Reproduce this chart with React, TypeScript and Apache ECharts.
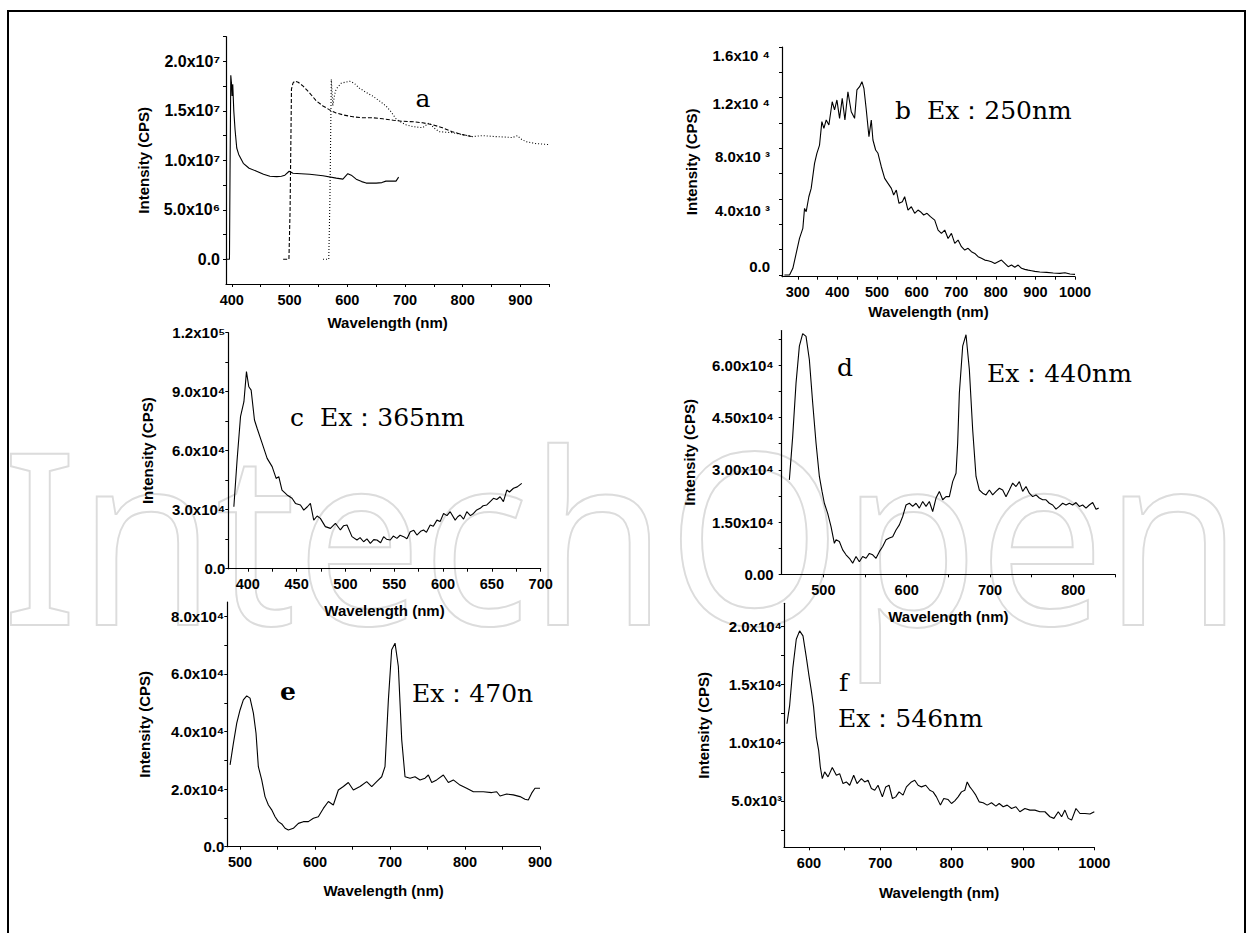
import React, { useEffect, useRef } from 'react';
import * as echarts from 'echarts';

type P = [number, number];

// ---------- panel a ----------
const aSolid: P[] = [[391,0],[396,0],[397,9.0e6],[398.3,1.86e7],[399.5,1.78e7],[400.5,1.65e7],[401.7,1.77e7],[403.5,1.5e7],[405.7,1.31e7],[408.6,1.125e7],[412,1.06e7],[420,9.7e6],[430,9.2e6],[443,8.9e6],[455,8.6e6],[466,8.4e6],[478,8.35e6],[486,8.4e6],[492,8.5e6],[499.4,8.9e6],[506,8.7e6],[520,8.65e6],[535,8.6e6],[558,8.45e6],[581,8.2e6],[592.5,8.1e6],[601,8.65e6],[607,8.5e6],[615.5,8.1e6],[625,7.85e6],[632.8,7.7e6],[650,7.7e6],[660,7.75e6],[667,7.9e6],[684.5,7.9e6],[689,8.3e6]];
const aDashed: P[] = [[489,0],[499,0],[501,5.0e6],[503.4,1.72e7],[506,1.78e7],[509,1.8e7],[515,1.79e7],[523.6,1.75e7],[535,1.68e7],[546.6,1.6e7],[558,1.55e7],[569.5,1.51e7],[580,1.48e7],[592.5,1.46e7],[610,1.44e7],[627,1.43e7],[645,1.43e7],[661.5,1.42e7],[680,1.405e7],[696,1.395e7],[715,1.39e7],[730.5,1.38e7],[747.7,1.36e7],[765,1.33e7],[782,1.29e7],[799.4,1.26e7],[816.6,1.24e7]];
const aDotted: P[] = [[558,0],[568,0],[570,6.0e6],[572.4,1.82e7],[575,1.55e7],[578,1.66e7],[580.7,1.72e7],[589.6,1.78e7],[604,1.8e7],[612,1.78e7],[621,1.73e7],[632,1.69e7],[644,1.65e7],[656,1.6e7],[667,1.55e7],[676,1.49e7],[684.5,1.42e7],[692,1.39e7],[701.7,1.36e7],[715,1.34e7],[730.5,1.33e7],[742,1.38e7],[750,1.33e7],[759,1.29e7],[770,1.285e7],[782,1.28e7],[800,1.26e7],[816.6,1.24e7],[834,1.25e7],[857,1.24e7],[875,1.235e7],[886,1.23e7],[894.8,1.25e7],[900,1.22e7],[909,1.19e7],[926,1.17e7],[948,1.16e7]];
const aXTicks = [400, 500, 600, 700, 800, 900];
const aXMinor = [450, 550, 650, 750, 850, 950];
const aYTicks = [0, 5e6, 1e7, 1.5e7, 2e7];
const aYLabels = ['0.0', '5.0x10⁶', '1.0x10⁷', '1.5x10⁷', '2.0x10⁷'];
const aYMinor = [2.5e6, 7.5e6, 1.25e7, 1.75e7, 2.25e7];

// ---------- panel b ----------
const bData: P[] = [[266,0],[279,0],[287.4,530],[295.8,1710],[304.2,2890],[312.6,3680],[316.9,5260],[321.1,5000],[327.8,6180],[333.7,6840],[342.2,8820],[348.1,9610],[354.8,10260],[360.7,12110],[365.8,11580],[371.7,12240],[378.4,11840],[386.8,13680],[392.7,13030],[398.7,13820],[405.4,12370],[412.1,13950],[418.9,12240],[426.5,14470],[434.9,12890],[443.3,12370],[449.2,14610],[456,14870],[461.9,15260],[466.9,14740],[472.9,13030],[479.6,10920],[485.5,12240],[489.7,10660],[496.5,9870],[502.4,9610],[510.8,8550],[519.3,7630],[527.7,7240],[536.2,6840],[542,6320],[548.7,6710],[555.5,5660],[563.9,5790],[569.8,6180],[578.2,5130],[586.7,5390],[595.1,4870],[603.5,5130],[609.5,5000],[617.9,4740],[626.3,4870],[634.8,4610],[645.7,4340],[654.2,3550],[662.6,3290],[671,3550],[679.4,2890],[687.9,3290],[696.3,2500],[704.7,2760],[713.2,2240],[721.6,1970],[730,2110],[738.4,1840],[746.9,1710],[755.3,1450],[763.7,1320],[772.2,1180],[780.6,1130],[789,1050],[797.5,920],[805.9,1050],[814.3,1180],[822.8,920],[831.2,660],[839.6,790],[848,610],[856.5,790],[864.9,530],[873.3,450],[881.8,390],[890.2,340],[898.6,290],[911.3,240],[928.2,210],[945.1,160],[961.9,130],[974.6,180],[987.4,80],[1000,50]];
const bXTicks = [300, 400, 500, 600, 700, 800, 900, 1000];
const bXMinor = [350, 450, 550, 650, 750, 850, 950];
const bYTicks = [0, 2000, 4000, 6000, 8000, 10000, 12000, 14000, 16000, 18000];
// panel b's tick labels sit above their tick marks in the original figure
const bYLabelAt = [655, 5130, 9340, 13550, 17360];
const bYLabels = ['0.0', '4.0x10 ³', '8.0x10 ³', '1.2x10 ⁴', '1.6x10 ⁴'];

// ---------- panel c ----------
const cData: P[] = [[385.7,31500],[389,55250],[392.5,77300],[396,84900],[398.6,100200],[401,92500],[403.4,90800],[406.8,75600],[409.5,71400],[414.7,63700],[419.8,56100],[424.9,51900],[429,45900],[431.7,46800],[435,40000],[440.2,37500],[445.3,35800],[448.8,33200],[453.9,32400],[457.3,29800],[461,31500],[464.1,33200],[467.5,24700],[471,26800],[474.3,25600],[479.4,21400],[484.6,20500],[489.7,23100],[494.8,19700],[498,21800],[501.6,22200],[506.7,16300],[511.8,14600],[515,15800],[518.6,13700],[522,15200],[525.5,12900],[529,14800],[532.3,14600],[536,13200],[539.1,16300],[542,15000],[545.9,14600],[549,16600],[552.7,15400],[556,17000],[559.6,16300],[563,15200],[566.4,18800],[570,19500],[573.2,17100],[577,19000],[580,19700],[583,18500],[586.8,22200],[590,21600],[593.7,24700],[597,24000],[600.5,28100],[604,27000],[607.3,29000],[612.4,24700],[615,26400],[617.5,27300],[621,25200],[624.3,29000],[628,27000],[631.2,28100],[634,29700],[638,30700],[641,32000],[644.8,32400],[648,34000],[651.6,35800],[655,35200],[658.4,36600],[661.8,34100],[665.3,40000],[668,39000],[672.1,40900],[676,41600],[680.6,43400]];
const cXTicks = [400, 450, 500, 550, 600, 650, 700];
const cXMinor = [425, 475, 525, 575, 625, 675];
const cYTicks = [0, 30000, 60000, 90000, 120000];
const cYLabels = ['0.0', '3.0x10⁴', '6.0x10⁴', '9.0x10⁴', '1.2x10⁵'];
const cYMinor = [15000, 45000, 75000, 105000];

// ---------- panel d ----------
const dData: P[] = [[459.2,27100],[463.2,39600],[467.2,54900],[471.2,65500],[475.2,69100],[479.2,68300],[483.2,61600],[487.2,49200],[491.2,37700],[495.2,28100],[498.4,23800],[501.2,20400],[505.2,17500],[509.2,13700],[513.2,8900],[515.2,9900],[519.2,9400],[523.2,7000],[527.2,5600],[531.2,4600],[535.2,3200],[539.2,5100],[543.2,3600],[547.2,5100],[551.2,4600],[555.2,6000],[559.2,5600],[563.2,4600],[567.2,6500],[571.2,8000],[575.2,9900],[579.2,10400],[583.2,10800],[587.2,12700],[591.2,14200],[595.2,16600],[599.2,19900],[603.2,20400],[607.2,19500],[611.2,20400],[615.2,19000],[619.2,20900],[623.2,19500],[627.2,20900],[631.2,18000],[635.2,21900],[639.2,23800],[643.2,21400],[647.2,22300],[651.2,22300],[655.2,26600],[659.2,29000],[661.2,37700],[663.2,52000],[667.2,65500],[671.2,68800],[675.2,58800],[679.2,41500],[683.2,28100],[687.2,24200],[691.2,23300],[695.2,22800],[699.2,24200],[703.2,22800],[707.2,23800],[711.2,24700],[715.2,24200],[719.2,22300],[723.2,24200],[727.2,26200],[731.2,25200],[735.2,26600],[739.2,23800],[743.2,25200],[747.2,23300],[751.2,22300],[755.2,22800],[759.2,21900],[763.2,21400],[767.2,21400],[771.2,20400],[775.2,19900],[779.2,18700],[783.2,19500],[787.2,20400],[791.2,19900],[795.2,20400],[799.2,19900],[803.2,20600],[807.2,19500],[811.2,19900],[815.2,19000],[819.2,19900],[823.2,20600],[827.2,18700],[830.4,19000]];
const dXTicks = [500, 600, 700, 800];
const dXMinor = [550, 650, 750, 850];
const dYTicks = [0, 15000, 30000, 45000, 60000];
const dYLabels = ['0.00', '1.50x10⁴', '3.00x10⁴', '4.50x10⁴', '6.00x10⁴'];
const dYMinor = [7500, 22500, 37500, 52500, 67500];

// ---------- panel e ----------
const eData: P[] = [[486.7,28400],[491.1,35900],[495.6,42900],[500,47500],[504.4,51000],[508.9,52400],[513.3,51600],[517.8,46400],[521.3,39400],[524.4,27800],[528.9,23200],[533.3,17400],[537.8,14500],[542.2,12800],[546.7,10400],[551.1,8700],[555.6,7900],[560,6400],[564.4,5800],[571.1,6400],[577.8,8100],[584.4,8700],[591.1,8700],[597.8,9900],[604.4,10400],[611.1,13300],[617.8,15700],[624.4,14500],[631.1,19700],[637.8,20900],[644.4,22300],[651.1,19700],[660,20900],[668.9,22600],[675.6,20900],[682.2,22600],[688.9,24300],[693.3,27800],[697.8,51000],[702.2,68400],[706.7,70700],[711.1,62600],[715.6,37100],[720,24300],[726.7,23800],[733.3,24300],[740,23200],[746.7,23800],[751.1,24900],[755.6,22300],[762.2,23200],[771.1,24900],[777.8,22300],[784.4,23200],[793.3,21400],[802.2,20300],[811.1,19100],[824.4,19100],[835.6,18800],[842.2,19100],[846.7,17600],[855.6,18300],[864.4,18000],[873.3,17400],[880,16500],[884.4,16200],[888.9,18600],[893.3,20300],[900,20300]];
const eXTicks = [500, 600, 700, 800, 900];
const eXMinor = [550, 650, 750, 850];
const eYTicks = [0, 20000, 40000, 60000, 80000];
const eYLabels = ['0.0', '2.0x10⁴', '4.0x10⁴', '6.0x10⁴', '8.0x10⁴'];
const eYMinor = [10000, 30000, 50000, 70000];

// ---------- panel f ----------
const fData: P[] = [[569.1,11630],[572.9,13200],[577.5,16490],[582.2,18910],[586.9,19630],[591.6,19200],[596.3,17340],[600,15770],[603.3,14490],[606.5,13060],[610.3,10490],[613.6,9340],[615.9,7910],[618.7,6910],[622,7490],[626.7,7060],[632.7,7860],[638.4,7200],[643,7340],[647.7,6490],[652.4,6630],[657.1,6340],[662.7,7200],[667.4,6490],[673.5,6910],[678.1,6630],[682.8,6770],[687.5,6060],[692.2,5910],[696.8,6340],[702.9,5340],[707.6,6200],[712.3,6340],[717,5200],[721.6,5340],[726.3,5770],[731.9,5490],[736.6,6200],[743.6,6630],[748.3,6770],[753,6340],[757.7,6200],[763.7,6340],[769.4,5910],[774,5770],[778.7,5340],[784.3,4630],[789,5200],[795.1,5110],[799.8,4770],[804.4,5000],[809.1,5340],[813.8,5770],[818.5,5910],[821.8,6630],[825.5,6200],[829.2,5910],[833.9,5490],[838.6,4910],[844.2,4830],[849.8,4630],[855.9,4830],[862,4540],[866.7,4770],[872.3,4490],[877.9,4630],[884,4340],[890.1,4490],[895.7,4060],[902.7,4340],[909.7,4200],[916.7,4200],[923.7,4060],[930.8,4060],[937.8,3630],[943.4,3490],[949.5,4060],[954.2,3630],[958.8,4200],[963.5,3490],[968.2,3340],[974.3,4340],[979.9,3910],[986.9,3910],[993.9,3860],[1000,4060]];
const fXTicks = [600, 700, 800, 900, 1000];
const fXMinor = [650, 750, 850, 950];
const fYTicks = [5000, 10000, 15000, 20000];
const fYLabels = ['5.0x10³', '1.0x10⁴', '1.5x10⁴', '2.0x10⁴'];
const fYMinor = [2500, 7500, 12500, 17500];

const X_NAME = 'Wavelength (nm)';
const Y_NAME = 'Intensity (CPS)';

const SANS = '"Liberation Sans", "DejaVu Sans", Arial, sans-serif';
const SERIF = '"DejaVu Serif", serif';

interface Panel {
  left: number; top: number; width: number; height: number;
  xMin: number; xMax: number; yMin: number; yMax: number;
  xTicks: number[]; xMinor: number[];
  yTicks: number[]; yLabels: string[] | null; yMinor: number[];
  xNameGap: number; yNameGap: number; yLabelMargin: number;
  series: { data: P[]; dash?: number[] }[];
  yLabelSize?: number;
}

const panels: Panel[] = [
  { left: 226, top: 36.7, width: 323.3, height: 247.3, xMin: 390, xMax: 950, yMin: -2.5e6, yMax: 2.25e7,
    xTicks: aXTicks, xMinor: aXMinor, yTicks: aYTicks, yLabels: aYLabels, yMinor: aYMinor,
    xNameGap: 31, yNameGap: 75, yLabelMargin: 6, yLabelSize: 16,
    series: [{ data: aSolid }, { data: aDashed, dash: [4, 2] }, { data: aDotted, dash: [1, 2] }] },
  { left: 782, top: 47, width: 293, height: 229.7, xMin: 260, xMax: 1000, yMin: -130, yMax: 18000,
    xTicks: bXTicks, xMinor: bXMinor, yTicks: bYTicks, yLabels: null, yMinor: [],
    xNameGap: 27, yNameGap: 83, yLabelMargin: 12,
    series: [{ data: bData }] },
  { left: 228.3, top: 332.7, width: 312.4, height: 236, xMin: 380, xMax: 700, yMin: 0, yMax: 120000,
    xTicks: cXTicks, xMinor: cXMinor, yTicks: cYTicks, yLabels: cYLabels, yMinor: cYMinor,
    xNameGap: 34, yNameGap: 73, yLabelMargin: 3,
    series: [{ data: cData }] },
  { left: 781.7, top: 330.5, width: 333.3, height: 243.8, xMin: 450, xMax: 850, yMin: 0, yMax: 70000,
    xTicks: dXTicks, xMinor: dXMinor, yTicks: dYTicks, yLabels: dYLabels, yMinor: dYMinor,
    xNameGap: 35, yNameGap: 85, yLabelMargin: 8,
    series: [{ data: dData }] },
  { left: 227.3, top: 602, width: 312.7, height: 244.7, xMin: 483, xMax: 900, yMin: 0, yMax: 85000,
    xTicks: eXTicks, xMinor: eXMinor, yTicks: eYTicks, yLabels: eYLabels, yMinor: eYMinor,
    xNameGap: 36, yNameGap: 75, yLabelMargin: 3,
    series: [{ data: eData }] },
  { left: 784, top: 603.3, width: 310.3, height: 244, xMin: 565, xMax: 1000, yMin: 1000, yMax: 22000,
    xTicks: fXTicks, xMinor: fXMinor, yTicks: fYTicks, yLabels: fYLabels, yMinor: fYMinor,
    xNameGap: 38, yNameGap: 73, yLabelMargin: 2,
    series: [{ data: fData }] },
];

function findIdx(ticks: number[], v: number) {
  return ticks.findIndex((t) => Math.abs(t - v) <= Math.abs(t) * 1e-9 + 1e-9);
}

function labelFmt(ticks: number[], labels: string[]) {
  return (v: number) => {
    const i = findIdx(ticks, v);
    return i < 0 ? '' : labels[i];
  };
}

function buildOption(): any {
  const axisLineStyle = { color: '#000', width: 1.2 };
  const nameStyle = { fontSize: 15, fontWeight: 'bold', fontFamily: SANS, color: '#000' };
  const grid = panels.map((p) => ({ left: p.left, top: p.top, width: p.width, height: p.height, containLabel: false }));
  const xAxis = panels.map((p, i) => ({
    type: 'value', gridIndex: i, min: p.xMin, max: p.xMax,
    axisLine: { show: true, onZero: false, lineStyle: axisLineStyle },
    splitLine: { show: false },
    axisTick: { show: true, inside: false, length: 3, customValues: [...p.xTicks, ...p.xMinor], lineStyle: { color: '#000', width: 1 } },
    axisLabel: { customValues: p.xTicks, margin: 8, fontSize: 14.5, fontWeight: 'bold', fontFamily: SANS, color: '#000',
      formatter: (v: number) => String(Math.round(v)) },
    name: X_NAME, nameLocation: 'middle', nameGap: p.xNameGap, nameTextStyle: nameStyle,
  }));
  const yAxis: any[] = panels.map((p, i) => ({
    type: 'value', gridIndex: i, position: 'left', min: p.yMin, max: p.yMax,
    axisLine: { show: true, onZero: false, lineStyle: axisLineStyle },
    splitLine: { show: false },
    axisTick: { show: true, inside: false, length: 3, customValues: [...p.yTicks, ...p.yMinor], lineStyle: { color: '#000', width: 1 } },
    axisLabel: p.yLabels
      ? { customValues: p.yTicks, margin: p.yLabelMargin, formatter: labelFmt(p.yTicks, p.yLabels),
          fontSize: p.yLabelSize ?? 15, fontWeight: 'bold', fontFamily: SANS, color: '#000' }
      : { show: false },
    name: Y_NAME, nameLocation: 'middle', nameGap: p.yNameGap, nameRotate: 90, nameTextStyle: nameStyle,
  }));
  // label-only overlay axis for panel b
  yAxis.push({
    type: 'value', gridIndex: 1, position: 'left', offset: 0, min: panels[1].yMin, max: panels[1].yMax,
    axisLine: { show: false, onZero: false }, axisTick: { show: false }, splitLine: { show: false },
    axisLabel: { customValues: bYLabelAt, margin: panels[1].yLabelMargin, formatter: labelFmt(bYLabelAt, bYLabels),
      fontSize: 15, fontWeight: 'bold', fontFamily: SANS, color: '#000' },
  });
  const series: any[] = [];
  panels.forEach((p, i) => {
    p.series.forEach((s) => {
      series.push({
        type: 'line', xAxisIndex: i, yAxisIndex: i, data: s.data, showSymbol: false, symbol: 'none',
        silent: true, z: 3,
        lineStyle: { color: '#000', width: 1.1, type: s.dash ? s.dash : 'solid' },
      });
    });
  });
  const txt = (x: number, y: number, text: string, bold = false, align = 'left') => ({
    type: 'text', x, y, z: 10,
    style: { text, fill: '#000', font: `${bold ? 'bold ' : ''}25px ${SERIF}`, align, verticalAlign: 'middle' },
  });
  const graphic = [
    { type: 'text', x: 2, y: 652, z: -10, scaleX: 0.93, silent: true,
      style: { text: 'IntechOpen', font: '240px "Noto Sans", sans-serif', fill: 'none', stroke: '#dcdcdc', lineWidth: 2, align: 'left', verticalAlign: 'bottom' } },
    { type: 'rect', z: 20, silent: true, shape: { x: 8, y: 11, width: 1237, height: 960 }, style: { fill: 'none', stroke: '#000', lineWidth: 2 } },
    txt(423, 98, 'a', false, 'center'),
    txt(895, 110, 'b  Ex：250nm'),
    txt(290, 417, 'c  Ex：365nm'),
    txt(837, 367, 'd'),
    txt(987, 373, 'Ex：440nm'),
    txt(280, 691, 'e', true),
    txt(412, 693, 'Ex：470n'),
    txt(839, 682, 'f'),
    txt(838, 718, 'Ex：546nm'),
  ];
  return { animation: false, backgroundColor: '#fff', grid, xAxis, yAxis, series, graphic };
}

export default function App() {
  const ref = useRef<HTMLDivElement>(null);
  useEffect(() => {
    if (!ref.current) return;
    const chart = echarts.init(ref.current, undefined, { renderer: 'svg' });
    chart.setOption(buildOption());
    return () => chart.dispose();
  }, []);
  return <div ref={ref} style={{ position: 'absolute', left: 0, top: 0, width: 1249, height: 933 }} />;
}
